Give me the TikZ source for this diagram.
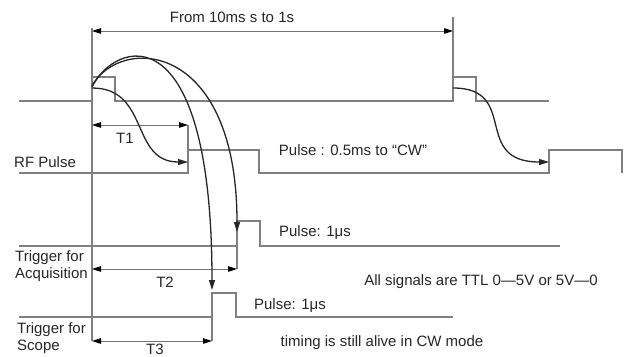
\documentclass[tikz,border=0pt]{standalone}
\usepackage{fontspec}
\setmainfont{Liberation Sans}
\usetikzlibrary{arrows.meta}

\begin{document}
\begin{tikzpicture}[
  x=1pt, y=-1pt,
  every node/.style={font=\fontsize{15}{17}\selectfont, text=black!85, inner sep=0pt},
  sigtext/.style={anchor=west, align=left},
  wave/.style={draw=black!50, line width=1.1pt},
  spanarrow/.style={{Triangle[length=9pt,width=5.5pt,black]}-{Triangle[length=9pt,width=5.5pt,black]},
    draw=black!55, line width=1pt},
  cause/.style={-{Triangle[length=10pt,width=6pt]}, line width=1.3pt, draw=black!85}
]
\useasboundingbox (0,0) rectangle (631,356);

\node (period) at (232,17) {From 10ms s to 1s};
\node (t1) at (125,138) {T1};
\node[sigtext] (rf) at (14,162) {RF Pulse};
\node (rfpulse) at (353,150) {Pulse : 0.5ms to “CW”};
\node[sigtext] (acq) at (15,266) {Trigger for\\Acquisition};
\node (t2) at (165,282) {T2};
\node (acqpulse) at (315,233) {Pulse: 1μs};
\node (ttl) at (481,282) {All signals are TTL 0—5V or 5V—0};
\node (scopepulse) at (290,305) {Pulse: 1μs};
\node[sigtext] (scope) at (17,338) {Trigger for\\Scope};
\node (cwmode) at (382,343) {timing is still alive in CW mode};
\node (t3) at (155,349) {T3};

\coordinate (start) at (92,31);
\coordinate (stop) at (453,31);
\coordinate (t1a) at (92,125);
\coordinate (t1b) at (188,125);
\coordinate (t2a) at (92,269);
\coordinate (t2b) at (237,269);
\coordinate (t3a) at (92,341);
\coordinate (t3b) at (212,341);
\coordinate (rep1) at (92,88);
\coordinate (rep2) at (453,88);
\coordinate (rf1) at (188,162);
\coordinate (rf2) at (549,162);
\coordinate (acqhit) at (237,232);
\coordinate (scopehit) at (212,290);

\draw[wave] (19,101) -- (92,101) -- (92,77) -- (115,77) -- (115,101) -- (453,101)
  -- (453,77) -- (476,77) -- (476,101) -- (549,101);
\draw[wave] (19,173) -- (188,173) -- (188,150) -- (259,150) -- (259,173) -- (549,173)
  -- (549,150) -- (622,150) -- (622,173);
\draw[wave] (19,246) -- (237,246) -- (237,221) -- (260,221) -- (260,246) -- (560,246);
\draw[wave] (19,317) -- (212,317) -- (212,293) -- (236,293) -- (236,317) -- (453,317);
\draw[wave] (92,28) -- (t3a);
\draw[wave] (453,17) -- (453,77);
\draw[wave] (t1b) -- (188,150);
\draw[wave] (237,221) -- (t2b);
\draw[wave] (212,293) -- (t3b);

\draw[spanarrow] (start) -- (stop);
\draw[spanarrow] (t1a) -- (t1b);
\draw[spanarrow] (t2a) -- (t2b);
\draw[spanarrow] (t3a) -- (t3b);

\draw[cause] (rep1) .. controls (150,88) and (130,162) .. (rf1);
\draw[cause] (rep2) .. controls (520,88) and (471,162) .. (rf2);
\draw[cause] (92,86) .. controls (120,35) and (237,40) .. (acqhit);
\draw[cause] (92,87) .. controls (115,40) and (212,10) .. (scopehit);
\end{tikzpicture}
\end{document}
